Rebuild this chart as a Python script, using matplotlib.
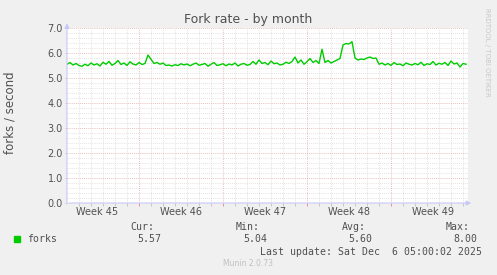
import numpy as np
import matplotlib
matplotlib.use("Agg")
import matplotlib.pyplot as plt

# forks per second, one sample every 6 hours
forks = [5.55, 5.62, 5.52, 5.58, 5.50, 5.47, 5.55, 5.49, 5.60, 5.52,
         5.57, 5.48, 5.63, 5.55, 5.66, 5.51, 5.58, 5.70, 5.54, 5.60,
         5.50, 5.65, 5.56, 5.52, 5.62, 5.54, 5.58,
         5.92, 5.75, 5.58, 5.62, 5.55, 5.60, 5.50, 5.52, 5.48,
         5.53, 5.50, 5.57, 5.52, 5.56, 5.49, 5.55, 5.60, 5.51, 5.54,
         5.58, 5.47, 5.55, 5.62, 5.50, 5.53, 5.57, 5.49, 5.56, 5.52,
         5.60, 5.48, 5.55, 5.58, 5.51,
         5.54, 5.66, 5.55, 5.72, 5.58, 5.62, 5.53, 5.68, 5.57, 5.60,
         5.52, 5.55, 5.63, 5.58, 5.66,
         5.84, 5.60, 5.72, 5.55, 5.65, 5.78, 5.62, 5.70, 5.58,
         6.15, 5.62, 5.70, 5.60, 5.66, 5.72, 5.78,
         6.32, 6.38, 6.36, 6.45, 5.80, 5.72, 5.76, 5.74, 5.80, 5.84,
         5.78, 5.80,
         5.55, 5.60, 5.52, 5.58, 5.50, 5.62, 5.54, 5.56, 5.49, 5.60,
         5.55, 5.52, 5.58, 5.53, 5.63, 5.50, 5.57, 5.54, 5.66, 5.52,
         5.59, 5.55, 5.62, 5.50, 5.68, 5.56, 5.60, 5.44, 5.58, 5.55]
sample_step = 0.25  # days
week_labels = ["Week 45", "Week 46", "Week 47", "Week 48", "Week 49"]
week_starts = [6, 13, 20, 27]   # days from left edge
stat_names = ["Cur:", "Min:", "Avg:", "Max:"]
stat_values = ["5.57", "5.04", "5.60", "8.00"]

BG = "#F0F0F0"
W, H = 497, 275

days = np.arange(len(forks)) * sample_step
x_max = 401 / 12.0

fig = plt.figure(figsize=(W / 100, H / 100), dpi=100, facecolor=BG)
ax = fig.add_axes([67 / W, (H - 203) / H, 401 / W, 175 / H])
ax.set_facecolor("white")

def fx(px):
    return px / W

def fy(py):
    return 1 - py / H

GRID = "#d8d8d8"
MAJOR = "#e4a8a8"
dots = (0, (1, 1.5))

# grid
day_lines = [d for d in np.arange(1, x_max, 1.0) if d not in week_starts]
for d in day_lines:
    ax.axvline(d, color=GRID, lw=0.6, ls=dots, zorder=1)
for v in np.arange(0.2, 7.01, 0.2):
    if abs(v - round(v)) < 1e-6:
        continue
    ax.axhline(v, color=GRID, lw=0.6, ls=dots, zorder=1)
for d in week_starts:
    ax.axvline(d, color=MAJOR, lw=0.6, ls=dots, zorder=1)
for v in range(1, 8):
    ax.axhline(v, color=MAJOR, lw=0.6, ls=dots, zorder=1)

# little ticks under the x axis
ax.vlines(day_lines, -0.12, 0, color="#c0c0c0", lw=0.6, clip_on=False, zorder=2)
ax.vlines(week_starts, -0.12, 0, color="#e08080", lw=0.6, clip_on=False, zorder=2)
ax.hlines(range(0, 8), -0.2, 0, color="#c0c0c0", lw=0.6, clip_on=False, zorder=2)

ax.plot(days, forks, color="#00CC00", lw=1.0, zorder=3)

ax.set_xlim(0, x_max)
ax.set_ylim(0, 7)
for s in ax.spines.values():
    s.set_visible(False)

ax.set_yticks(range(0, 8))
ax.set_yticklabels([f"{v:.1f}" for v in range(0, 8)], fontsize=7, color="#505050")
ax.set_xticks([w + 3.5 for w in [-1] + week_starts])
ax.set_xticklabels(week_labels, fontsize=7, color="#505050")
ax.tick_params(axis="both", length=0, pad=3)

# axis lines with arrows
ax.annotate("", xy=(x_max + 0.5, 0), xytext=(-0.1, 0),
            arrowprops=dict(arrowstyle="-|>", color="#C8C8F8", lw=0.8,
                            mutation_scale=7),
            annotation_clip=False, zorder=4)
ax.annotate("", xy=(0, 7.3), xytext=(0, -0.1),
            arrowprops=dict(arrowstyle="-|>", color="#C8C8F8", lw=0.8,
                            mutation_scale=7),
            annotation_clip=False, zorder=4)

fig.text(fx(248), fy(19), "Fork rate - by month", fontsize=9, color="#505050",
         ha="center", va="center")
fig.text(fx(10), fy(113), "forks / second", fontsize=8.5, color="#505050",
         rotation=90, ha="center", va="center")
fig.text(fx(487), fy(52), "RRDTOOL / TOBI OETIKER", fontsize=5, color="#C8C8C8",
         rotation=270, ha="center", va="center")

mono = "DejaVu Sans Mono"
fig.patches.append(plt.Rectangle((fx(14), fy(242)), 6 / W, 6 / H,
                                 transform=fig.transFigure, color="#00CC00"))
fig.text(fx(27), fy(239), "forks", fontsize=7.1, family=mono, color="#505050",
         va="center")
name_right = [154, 260, 366, 470]
val_right = [161, 267, 372, 477]
for n, v, nr, vr in zip(stat_names, stat_values, name_right, val_right):
    fig.text(fx(nr), fy(227), n, fontsize=7.1, family=mono, color="#505050",
             ha="right", va="center")
    fig.text(fx(vr), fy(239), v, fontsize=7.1, family=mono, color="#505050",
             ha="right", va="center")
fig.text(fx(482), fy(252), "Last update: Sat Dec  6 05:00:02 2025", fontsize=7.1,
         family=mono, color="#505050", ha="right", va="center")
fig.text(fx(248), fy(264), "Munin 2.0.73", fontsize=5.5, color="#C0C0C0",
         ha="center", va="center")

fig.savefig("out.png", dpi=100, facecolor=BG)
